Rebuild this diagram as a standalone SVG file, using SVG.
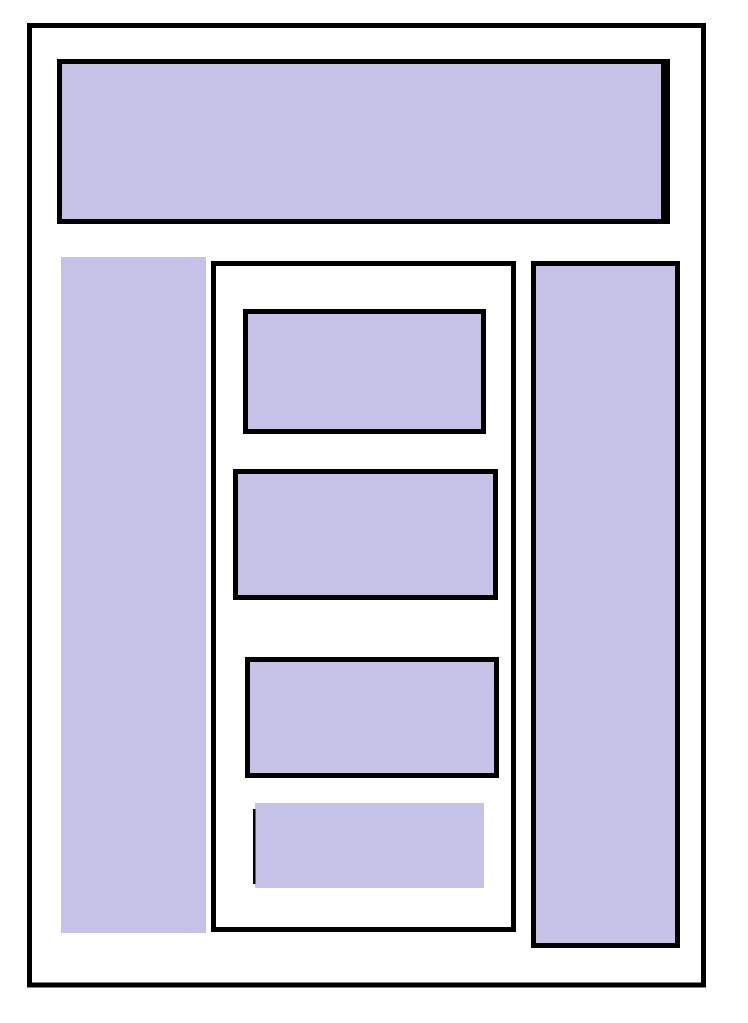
<svg xmlns="http://www.w3.org/2000/svg" width="748" height="1023" viewBox="0 0 748 1023">
<style>
.fr{fill:#fff;stroke:#000;stroke-width:5}
.bx{fill:#c6c1e6;stroke:#000;stroke-width:5}
.pl{fill:#c6c1e6;stroke:none}
</style>
<rect width="748" height="1023" fill="#fff"/>
<g id="page"><rect class="fr" x="29.5" y="25.5" width="674" height="959.5"/></g>
<g id="header">
<rect x="57" y="59" width="613" height="165" fill="#000"/>
<rect class="pl" x="62" y="64" width="599" height="155"/>
</g>
<g id="left-sidebar"><rect class="pl" x="61" y="257" width="145" height="676"/></g>
<g id="center-column"><rect class="fr" x="213.5" y="263.5" width="300" height="666"/></g>
<g id="right-sidebar"><rect class="bx" x="533.5" y="263.5" width="144" height="682"/></g>
<g id="box1"><rect class="bx" x="245.5" y="311.5" width="238" height="120"/></g>
<g id="box2"><rect class="bx" x="235.5" y="471.5" width="260" height="126"/></g>
<g id="box3"><rect class="bx" x="247.5" y="659.5" width="249" height="116"/></g>
<g id="box4">
<rect class="pl" x="255" y="803" width="229" height="85"/>
<rect x="253" y="809" width="2.5" height="75" fill="#000"/>
</g>
<g id="connectors"></g>
</svg>
